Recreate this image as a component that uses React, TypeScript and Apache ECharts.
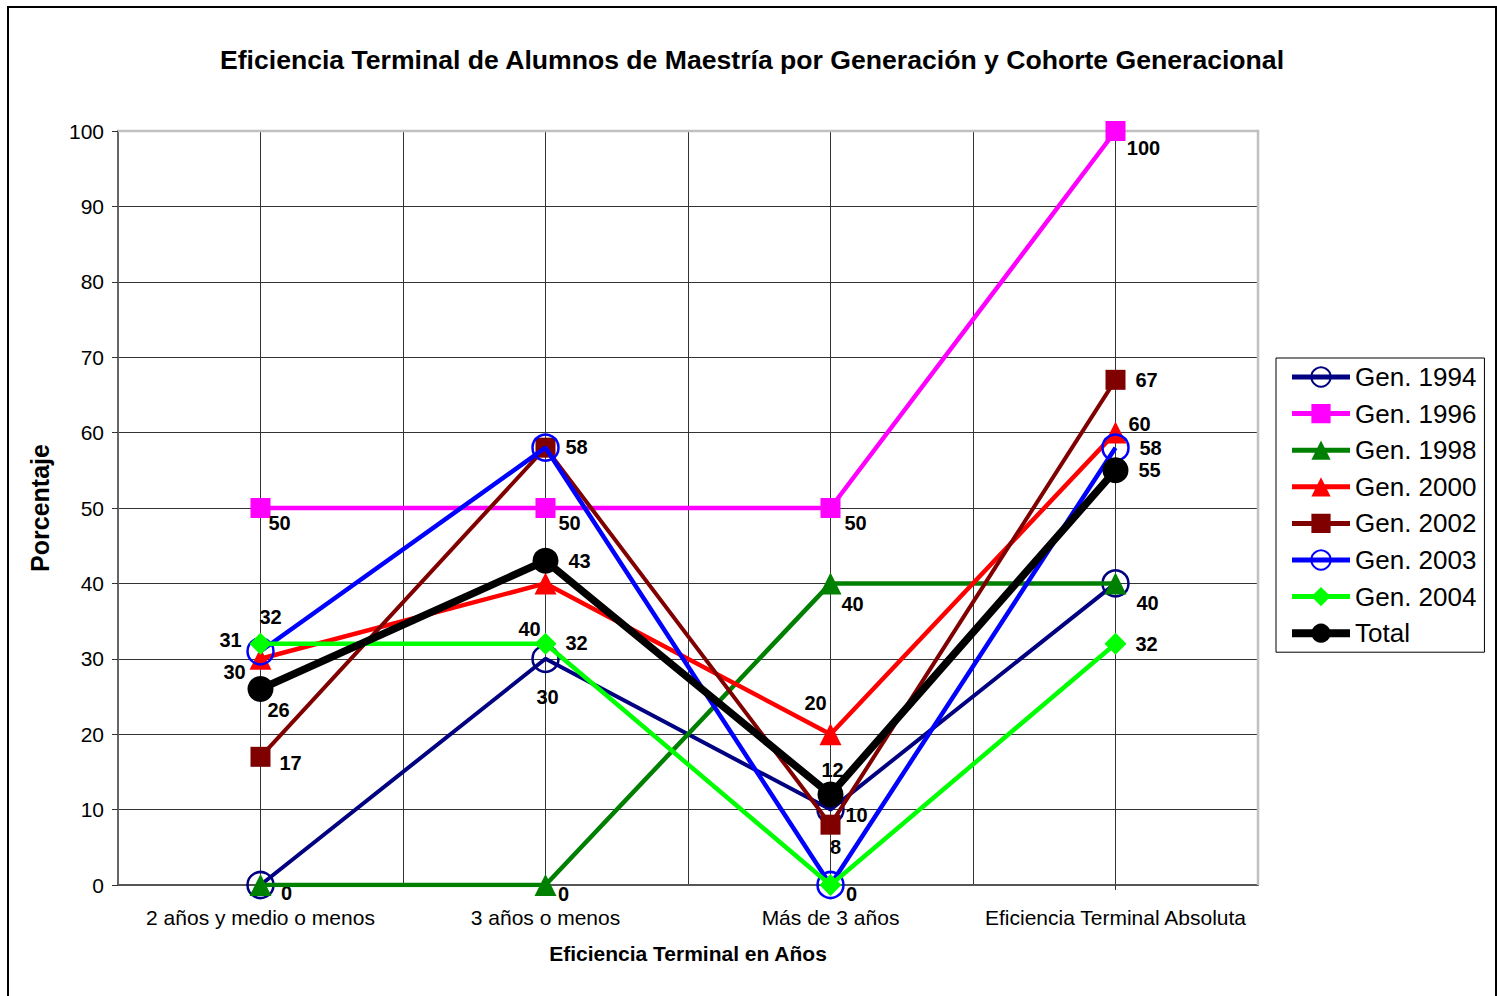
import React, { useEffect, useRef } from "react";
import * as echarts from "echarts";

const categories = [
  "2 años y medio o menos",
  "3 años o menos",
  "Más de 3 años",
  "Eficiencia Terminal Absoluta",
];
const seriesNames = [
  "Gen. 1994",
  "Gen. 1996",
  "Gen. 1998",
  "Gen. 2000",
  "Gen. 2002",
  "Gen. 2003",
  "Gen. 2004",
  "Total",
];
const gen1994 = [0, 30, 10, 40];
const gen1996 = [50, 50, 50, 100];
const gen1998 = [0, 0, 40, 40];
const gen2000 = [30, 40, 20, 60];
const gen2002 = [17, 58, 8, 67];
const gen2003 = [31, 58, 0, 58];
const gen2004 = [32, 32, 0, 32];
const total = [26, 43, 12, 55];
const yTicks = { min: 0, max: 100, interval: 10 };

const seriesValues = [gen1994, gen1996, gen1998, gen2000, gen2002, gen2003, gen2004, total];

// label offsets (pixels from point centre), null = label hidden
const labelOffsets: (number[] | null)[][] = [
  [[26, 8], [2, 38], [26, 5], [32, 20]],
  [[19, 15], [24, 15], [25, 15], [28, 17]],
  [null, [18, 9], [22, 21], null],
  [[-26, 13], [-16, 46], [-15, -31], [24, -9]],
  [[30, 6], [31, -1], [5, 22], [31, 0]],
  [[-30, -11], null, [21, 9], [35, 0]],
  [[10, -27], [31, -1], null, [31, 0]],
  [[18, 21], [34, 0], [2, -25], [34, 0]],
];

const styles = [
  { color: "#000080", symbol: "circle", size: 26, width: 4, hollow: true },
  { color: "#FF00FF", symbol: "rect", size: 20, width: 4.5, hollow: false },
  { color: "#008000", symbol: "triangle", size: 22, width: 4.5, hollow: false },
  { color: "#FF0000", symbol: "triangle", size: 22, width: 4.5, hollow: false },
  { color: "#800000", symbol: "rect", size: 20, width: 4, hollow: false },
  { color: "#0000FF", symbol: "circle", size: 26, width: 4.5, hollow: true },
  { color: "#00FF00", symbol: "diamond", size: 22, width: 4.5, hollow: false },
  { color: "#000000", symbol: "circle", size: 26, width: 7.5, hollow: false },
];

const FONT = 'Arial, "Liberation Sans", sans-serif';

export default function App() {
  const ref = useRef<HTMLDivElement>(null);
  useEffect(() => {
    if (!ref.current) return;
    const chart = echarts.init(ref.current, undefined, { renderer: "svg" });
    const series = seriesNames.map((name, si) => {
      const st = styles[si];
      return {
        name,
        type: "line",
        xAxisIndex: 0,
        yAxisIndex: 0,
        symbol: st.symbol,
        symbolSize: st.size,
        lineStyle: { color: st.color, width: st.width },
        itemStyle: st.hollow
          ? { color: "rgba(0,0,0,0)", borderColor: st.color, borderWidth: 2.5 }
          : { color: st.color },
        label: {
          show: true,
          position: "inside",
          color: "#000",
          fontWeight: "bold",
          fontSize: 20,
          fontFamily: FONT,
        },
        emphasis: { disabled: true },
        data: seriesValues[si].map((v, i) => {
          const off = labelOffsets[si][i];
          return {
            value: v,
            label: off ? { show: true, offset: off } : { show: false },
          };
        }),
        z: 2 + si,
      };
    });
    chart.setOption({
      animation: false,
      backgroundColor: "#fff",
      textStyle: { fontFamily: FONT },
      grid: { left: 118, top: 131, width: 1140, height: 754, containLabel: false },
      graphic: [
        {
          type: "rect",
          shape: { x: 8, y: 7, width: 1488, height: 1010 },
          style: { fill: "none", stroke: "#000", lineWidth: 2 },
          silent: true,
          z: 1,
        },
        {
          type: "text",
          x: 752,
          y: 60,
          style: {
            text: "Eficiencia Terminal de Alumnos de Maestría por Generación y Cohorte Generacional",
            fontFamily: FONT,
            fontWeight: "bold",
            fontSize: 26.6,
            fill: "#000",
            textAlign: "center",
            textVerticalAlign: "middle",
          },
          z: 1,
        },
        {
          type: "polyline",
          shape: { points: [[118, 131], [1258, 131], [1258, 885]] },
          style: { fill: "none", stroke: "#c0c0c0", lineWidth: 2.5 },
          silent: true,
          z: 1,
        },
      ],
      legend: {
        orient: "vertical",
        left: 1276,
        top: 358,
        padding: [6, 8, 6, 12],
        itemWidth: 58,
        itemHeight: 24,
        itemGap: 10.6,
        backgroundColor: "#fff",
        borderColor: "#000",
        borderWidth: 1,
        selectedMode: false,
        textStyle: { fontSize: 26, color: "#000", fontFamily: FONT, lineHeight: 26 },
        data: seriesNames.map((n, si) => ({
          name: n,
          lineStyle: { width: si === 7 ? 8 : 5 },
        })),
      },
      xAxis: [
        {
          type: "category",
          data: categories,
          boundaryGap: true,
          axisLine: { show: true, lineStyle: { color: "#555", width: 2 } },
          axisTick: { show: true, alignWithLabel: true, length: 5, lineStyle: { color: "#333" } },
          axisLabel: { color: "#000", fontSize: 21, fontFamily: FONT, margin: 22, interval: 0 },
          splitLine: { show: false },
          name: "Eficiencia Terminal en Años",
          nameLocation: "middle",
          nameGap: 58,
          nameTextStyle: { color: "#000", fontSize: 21, fontWeight: "bold", fontFamily: FONT },
        },
        {
          type: "value",
          min: 0,
          max: 8,
          interval: 1,
          position: "bottom",
          axisLine: { show: false },
          axisTick: { show: false },
          axisLabel: { show: false },
          splitLine: { show: true, lineStyle: { color: "#333", width: 1 } },
        },
      ],
      yAxis: {
        type: "value",
        min: yTicks.min,
        max: yTicks.max,
        interval: yTicks.interval,
        axisLine: { show: true, lineStyle: { color: "#666", width: 2 } },
        axisTick: { show: true, length: 6, lineStyle: { color: "#333" } },
        axisLabel: { color: "#000", fontSize: 21, fontFamily: FONT, margin: 14 },
        splitLine: { show: true, lineStyle: { color: "#333", width: 1 } },
        name: "Porcentaje",
        nameLocation: "middle",
        nameGap: 66,
        nameTextStyle: { color: "#000", fontSize: 25, fontWeight: "bold", fontFamily: FONT },
      },
      series,
    });
    return () => chart.dispose();
  }, []);
  return (
    <div
      ref={ref}
      style={{ position: "fixed", left: 0, top: 0, width: 1497, height: 996 }}
    />
  );
}
